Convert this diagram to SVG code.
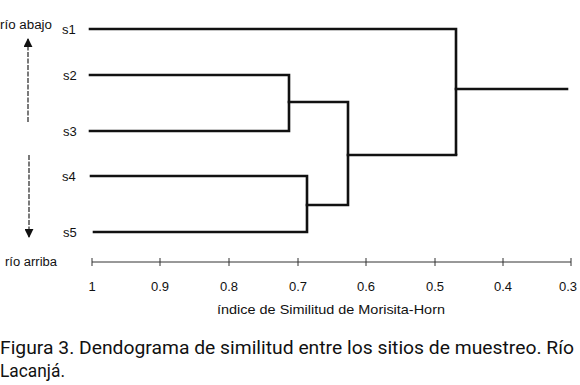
<svg xmlns="http://www.w3.org/2000/svg" width="580" height="385" viewBox="0 0 580 385">
<style>
.br{fill:none;stroke:#111;stroke-width:2.6;stroke-linecap:square}
.lab{font-family:"Liberation Sans",Arial,sans-serif;font-size:13px;fill:#111}
.side{font-family:"Liberation Sans",Arial,sans-serif;font-size:12.5px;fill:#111}
.tick{font-family:"Liberation Sans",Arial,sans-serif;font-size:13px;fill:#111;text-anchor:middle}
.ttl{font-family:"Liberation Sans",Arial,sans-serif;font-size:13.5px;fill:#111;text-anchor:middle}
.ax{stroke:#333;stroke-width:1;fill:none}
.arr{stroke:#222;stroke-width:1.2;fill:none;stroke-dasharray:5 1.5}
.cap{font-family:"Roboto","Liberation Sans",sans-serif;font-size:19px;fill:#111}
</style>
<defs>
<marker id="ah" viewBox="0 0 10 10" refX="9" refY="5" markerWidth="9" markerHeight="9" orient="auto" markerUnits="userSpaceOnUse">
<path d="M0,0 L10,5 L0,10 z" fill="#111"/>
</marker>
</defs>
<g id="leaves">
<g id="s1"><text class="lab" x="62" y="34">s1</text></g>
<g id="s2"><text class="lab" x="63" y="80">s2</text></g>
<g id="s3"><text class="lab" x="63" y="136">s3</text></g>
<g id="s4"><text class="lab" x="62" y="181">s4</text></g>
<g id="s5"><text class="lab" x="63" y="237">s5</text></g>
</g>
<g id="connectors">
<path class="br" d="M90,29 H456 V154"/>
<path class="br" d="M90,75 H289 V131 H90"/>
<path class="br" d="M91,176 H307 V232 H94"/>
<path class="br" d="M289,102 H348 V205 H307"/>
<path class="br" d="M348,155 H456"/>
<path class="br" d="M456,89 H567"/>
</g>
<g id="direction">
<text class="side" x="0" y="29" textLength="52" lengthAdjust="spacingAndGlyphs">río abajo</text>
<line class="arr" x1="28" y1="122" x2="28" y2="39" marker-end="url(#ah)"/>
<line class="arr" x1="29" y1="155" x2="29" y2="237" marker-end="url(#ah)"/>
<text class="side" x="5" y="266" textLength="52" lengthAdjust="spacingAndGlyphs">río arriba</text>
</g>
<g id="axis">
<line class="ax" x1="92" y1="262" x2="571" y2="262"/>
<path class="ax" d="M92,258 V266 M160,258 V266 M229,258 V266 M298,258 V266 M366,258 V266 M435,258 V266 M503,258 V266 M571,258 V266"/>
<text class="tick" x="92" y="291">1</text>
<text class="tick" x="160" y="291">0.9</text>
<text class="tick" x="229" y="291">0.8</text>
<text class="tick" x="298" y="291">0.7</text>
<text class="tick" x="366" y="291">0.6</text>
<text class="tick" x="435" y="291">0.5</text>
<text class="tick" x="503" y="291">0.4</text>
<text class="tick" x="568" y="291">0.3</text>
<text class="ttl" x="331" y="314" textLength="228" lengthAdjust="spacingAndGlyphs">índice de Similitud de Morisita-Horn</text>
</g>
<g id="caption">
<text class="cap" x="0" y="354" textLength="574" lengthAdjust="spacingAndGlyphs">Figura 3. Dendograma de similitud entre los sitios de muestreo. Río</text>
<text class="cap" x="0" y="377" textLength="65" lengthAdjust="spacingAndGlyphs">Lacanjá.</text>
</g>
</svg>
